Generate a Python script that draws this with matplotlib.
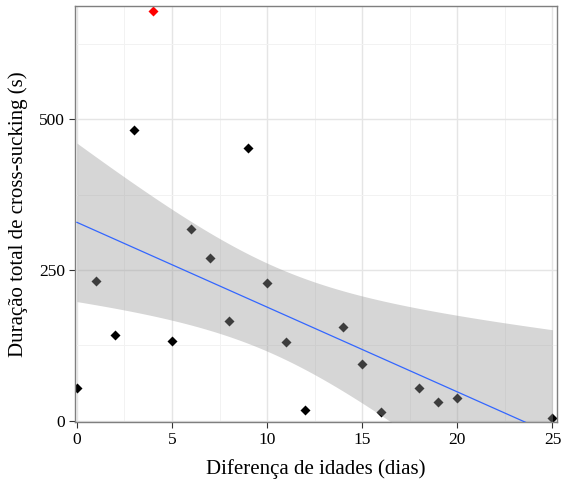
import matplotlib

matplotlib.use("Agg")
import matplotlib.pyplot as plt
import numpy as np

# age difference (days) vs total cross-sucking duration (s)
idade_dif = [0, 1, 2, 3, 4, 5, 6, 7, 8, 9, 10, 11, 12, 14, 15, 16, 18, 19, 20, 25]
duracao = [55, 232, 143, 482, 680, 132, 318, 270, 165, 452, 228, 130, 18, 155, 95, 15, 55, 32, 38, 5]
destaque = [False, False, False, False, True, False, False, False, False, False,
            False, False, False, False, False, False, False, False, False, False]

x_ticks = [0, 5, 10, 15, 20, 25]
y_ticks = [0, 250, 500]
T_975 = 2.100922  # t quantile, df = n - 2 = 18

plt.rcParams["font.family"] = ["Liberation Serif", "DejaVu Serif"]

x = np.array(idade_dif, dtype=float)
y = np.array(duracao, dtype=float)
hl = np.array(destaque)

# ordinary least squares fit with 95% confidence band of the mean
n = len(x)
slope, intercept = np.polyfit(x, y, 1)
resid = y - (intercept + slope * x)
s = np.sqrt(np.sum(resid ** 2) / (n - 2))
sxx = np.sum((x - x.mean()) ** 2)
xs = np.linspace(x.min(), x.max(), 80)
fit = intercept + slope * xs
se = s * np.sqrt(1.0 / n + (xs - x.mean()) ** 2 / sxx)
lo, hi = fit - T_975 * se, fit + T_975 * se

fig = plt.figure(figsize=(5.64, 4.84), dpi=100)
ax = fig.add_axes([0.133, 0.128, 0.855, 0.86])

ax.scatter(x[~hl], y[~hl], marker="D", s=26, color="black", linewidths=0, zorder=2)
ax.scatter(x[hl], y[hl], marker="D", s=26, color="red", linewidths=0, zorder=2)
ax.fill_between(xs, lo, hi, color="#999999", alpha=0.4, linewidth=0, zorder=3)
ax.plot(xs, fit, color="#3366FF", linewidth=0.9, zorder=4)

ax.set_xlim(-0.1, 25.25)
ax.set_ylim(-2, 688)
ax.set_xticks(x_ticks)
ax.set_yticks(y_ticks)
ax.set_xticks([2.5, 7.5, 12.5, 17.5, 22.5], minor=True)
ax.set_yticks([125, 375, 625], minor=True)
ax.grid(which="major", color="#e5e5e5", linewidth=1.0, zorder=0)
ax.grid(which="minor", color="#f2f2f2", linewidth=0.7, zorder=0)
ax.set_axisbelow(True)
ax.tick_params(which="minor", length=0)
ax.tick_params(which="major", length=4, width=0.8, color="#333333", labelsize=12.5, labelcolor="black", pad=3)
for sp in ax.spines.values():
    sp.set_color("#7f7f7f")
    sp.set_linewidth(1.0)

ax.set_xlabel("Diferença de idades (dias)", fontsize=15, labelpad=8)
ax.set_ylabel("Duração total de cross-sucking (s)", fontsize=15, labelpad=8)

fig.savefig("out.png", dpi=100)
